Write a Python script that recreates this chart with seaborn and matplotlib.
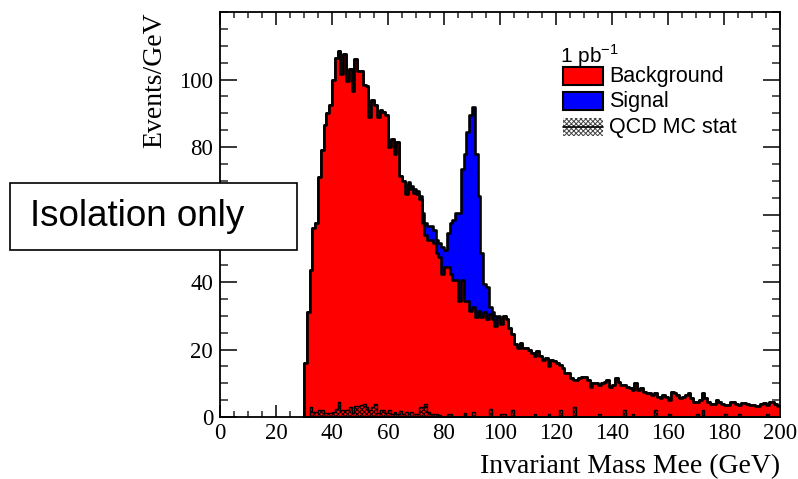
import numpy as np
import pandas as pd
import matplotlib
matplotlib.use("Agg")
import matplotlib.pyplot as plt
import seaborn as sns
from matplotlib.patches import Rectangle
from matplotlib.lines import Line2D

sns.set_theme(style="white")
plt.rcParams["font.family"] = ["Liberation Serif", "DejaVu Serif"]
plt.rcParams["hatch.linewidth"] = 0.7

# ---------------- data (1 GeV bins, 30..200 GeV) ----------------
mass_low = 30
mass_high = 200
background = [
    16, 31, 43.5, 56, 57.5, 71, 79, 86.5, 90, 92.5,            # 30-39
    100, 106.5, 108.5, 101.5, 107.5, 99.5, 103, 96.5, 106, 102.5,  # 40-49
    102.5, 98.5, 98, 89, 94, 92.5, 89, 91, 90.5, 89.5,         # 50-59
    80, 82.5, 78, 81.5, 71.5, 70, 66, 69, 67.5, 66.5,          # 60-69
    66, 64.5, 57.5, 54, 52.5, 52.5, 51.5, 48.5, 47.5, 42.5,    # 70-79
    44.5, 44.5, 42.5, 40.5, 40.5, 34.5, 40.5, 34.5, 34.5, 31.5,  # 80-89
    32.5, 29.5, 31.5, 29.5, 31, 29, 30.5, 29, 27, 29.5,        # 90-99
    27.5, 30, 29, 26.5, 24.5, 21.5, 20.5, 22, 20.5, 20.5,      # 100-109
    20, 19, 18, 19.5, 18, 17, 17.5, 15, 17, 16.5,              # 110-119
    16, 15.5, 14.5, 13, 13, 11.5, 11, 11, 11.5, 12,            # 120-129
    12, 11, 9, 10, 10, 9.5, 10, 10.5, 11, 9,                   # 130-139
    9.5, 11.5, 10.5, 9.5, 9.5, 9, 8.5, 8, 10, 8,               # 140-149
    8.5, 7.5, 7, 7, 6.5, 7, 6, 5.5, 6.5, 6,                    # 150-159
    5, 7.3, 7, 6.5, 5.5, 6, 6.5, 7, 5.5, 4.5,                  # 160-169
    4.5, 5, 7, 5.5, 4.5, 4, 4, 5, 4.5, 4,                      # 170-179
    3.5, 3.5, 4.5, 4.5, 4, 3.5, 4.2, 4.2, 4, 3.5,              # 180-189
    3.5, 3.2, 3.2, 4, 4.2, 3.5, 4.5, 4.5, 4, 3.3,              # 190-199
]
signal_start = 67
signal = [
    0.5, 1, 1, 1, 1, 3, 3.5, 4, 4, 4,          # 67-76
    4, 4, 8, 5, 10, 15, 18, 20, 26, 33,        # 77-86
    43.5, 50, 58, 59.5, 48.5, 34, 19, 8.5, 9.5, 2,  # 87-96
    2, 3, 0.5, 0.5,                            # 97-100
]
qcd_stat = [
    0, 0, 3, 1.5, 1.5, 2, 2, 1.2, 1.2, 1.2,          # 30-39
    1.5, 2.5, 4.5, 2.2, 2.2, 2.2, 3, 1.2, 3.2, 3.2,  # 40-49
    3.5, 4, 3, 2, 3, 4, 1.2, 2, 2, 1.2,              # 50-59
    2, 1, 1.5, 1, 1.8, 1, 1.5, 1, 1.5, 1,            # 60-69
    1, 3, 3, 4, 1.5, 1, 1, 1, 0.5, 0,                # 70-79
    0, 1, 1, 0, 0, 0, 0, 1.2, 0, 0,                  # 80-89
    1.5, 0, 0, 0, 0, 0, 2.5, 0, 0, 0,                # 90-99
    1, 1, 0, 0, 2, 0, 0, 0, 0, 0,                    # 100-109
    0, 0, 1, 0, 0, 0, 0, 1, 0, 0,                    # 110-119
    0, 2, 0, 0, 0, 0, 3, 0, 0, 0,                    # 120-129
    0, 0, 0, 0, 0, 1, 0, 0, 0, 0,                    # 130-139
    0, 0, 0, 0, 2, 0, 0, 1, 0, 0,                    # 140-149
    0, 0, 0, 0, 0, 2, 0, 0, 0, 0,                    # 150-159
    1, 0, 0, 0, 0, 0, 0, 0, 0, 0,                    # 160-169
    1, 0, 2, 0, 0, 0, 0, 0, 0, 0,                    # 170-179
    1, 0, 0, 0, 0, 1, 0, 0, 0, 0,                    # 180-189
    0, 0, 0, 0, 0, 1, 0, 0, 0, 0,                    # 190-199
]
legend_labels = ["Background", "Signal", "QCD MC stat"]
x_ticks = [0, 20, 40, 60, 80, 100, 120, 140, 160, 180, 200]
y_ticks = [0, 20, 40, 60, 80, 100]

# ---------------- build table ----------------
edges = np.arange(mass_low, mass_high + 1, 1.0)
centers = edges[:-1] + 0.5
bkg = np.array(background, dtype=float)
sig = np.zeros_like(bkg)
sig[signal_start - mass_low: signal_start - mass_low + len(signal)] = signal
df = pd.DataFrame({"mass": centers, "bkg": bkg, "total": bkg + sig,
                   "qcd": np.array(qcd_stat, dtype=float)})

# ---------------- figure ----------------
W, H = 798, 479
fig = plt.figure(figsize=(W / 100, H / 100), dpi=100)
ax = fig.add_axes([220 / W, 1 - 417 / H, 560 / W, 405 / H])

lw = 1.9
common = dict(data=df, x="mass", binwidth=1, binrange=(mass_low, mass_high),
              element="step", fill=True, alpha=1, edgecolor="black", ax=ax)
sns.histplot(weights="total", color="#0000ff", linewidth=lw, **common)
sns.histplot(weights="bkg", color="#ff0000", linewidth=lw, **common)
sns.histplot(weights="qcd", color="#ff0000", linewidth=1.0, **common)
qc = ax.collections[-1]
qc.set_facecolor("none")
qc.set_hatch("xxxxxxx")

ax.set_xlim(0, 200)
ax.set_ylim(0, 120)
ax.set_xlabel("")
ax.set_ylabel("")
ax.set_xticks(x_ticks)
ax.set_yticks(y_ticks)
ax.xaxis.set_minor_locator(matplotlib.ticker.MultipleLocator(5))
ax.yaxis.set_minor_locator(matplotlib.ticker.MultipleLocator(5))
ax.tick_params(axis="x", which="major", direction="in", length=9, width=1.1,
               top=True, bottom=True, labelsize=16.5, pad=4, colors="black")
ax.tick_params(axis="x", which="minor", direction="in", length=4.5, width=1.1,
               top=True, bottom=True)
ax.tick_params(axis="y", which="major", direction="in", length=12, width=1.1,
               left=True, right=True, labelsize=16.5, pad=5, colors="black")
ax.tick_params(axis="y", which="minor", direction="in", length=6, width=1.1,
               left=True, right=True)
for s in ax.spines.values():
    s.set_visible(True)
    s.set_color("black")
    s.set_linewidth(1.3)

fig.text(780 / W, 1 - 467 / H, "Invariant Mass Mee (GeV)", ha="right",
         va="center", fontsize=20, color="black")
fig.text(155 / W, 1 - 12 / H, "Events/GeV", ha="center", va="top",
         rotation=90, fontsize=20, color="black")

# ---------------- legend (drawn in figure pixels) ----------------
sans = ["Liberation Sans", "DejaVu Sans"]
def fpx(x, y):
    return x / W, 1 - y / H

fig.text(*fpx(560, 56), r"1 pb$^{\mathregular{-1}}$", family=sans, fontsize=15,
         ha="left", va="center", color="black")
box_x, box_w, box_h = 563, 40, 18
rows = [76, 101, 127]
fills = ["#ff0000", "#0000ff", None]
for lab, yc, fc in zip(legend_labels, rows, fills):
    x0, y0 = fpx(box_x, yc + box_h / 2)
    if fc is not None:
        r = Rectangle((x0, y0), box_w / W, box_h / H, transform=fig.transFigure,
                      facecolor=fc, edgecolor="black", linewidth=1.5)
    else:
        r = Rectangle((x0, y0), box_w / W, box_h / H, transform=fig.transFigure,
                      facecolor="white", edgecolor="#444444", linewidth=0,
                      hatch="xxxxxxx")
    fig.add_artist(r)
    if fc is None:
        fig.add_artist(Line2D([box_x / W, (box_x + box_w) / W],
                              [1 - yc / H, 1 - yc / H],
                              transform=fig.transFigure, color="black", lw=1.2))
    fig.text(*fpx(609, yc), lab, family=sans, fontsize=15.5, ha="left",
             va="center", color="black")

# ---------------- "Isolation only" box ----------------
bx0, by0 = fpx(10, 250)
fig.add_artist(Rectangle((bx0, by0), 287 / W, 67 / H, transform=fig.transFigure,
                         facecolor="white", edgecolor="black", linewidth=1.2,
                         zorder=10))
t = fig.text(*fpx(30, 217), "Isolation only", family=sans, fontsize=26.5,
             ha="left", va="center", color="black", zorder=11)

fig.savefig("out.png", dpi=100)
